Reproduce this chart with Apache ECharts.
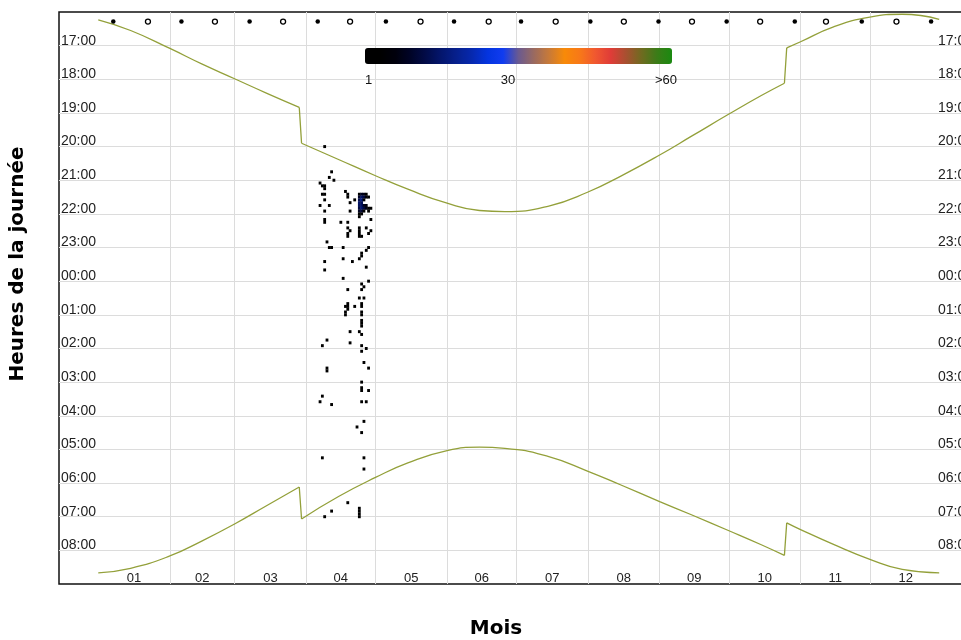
<!DOCTYPE html>
<html>
<head>
<meta charset="utf-8">
<script src="https://cdn.jsdelivr.net/npm/echarts@6/dist/echarts.min.js"></script>
<style>
  html, body { margin: 0; padding: 0; background: #fff; }
  #chart { width: 961px; height: 640px; }
</style>
</head>
<body>
<div id="chart"></div>
<script>
// months (day of year, Jan 1 = 0)
const monthLabels = ['01', '02', '03', '04', '05', '06', '07', '08', '09', '10', '11', '12'];
const monthStarts = [31, 59, 90, 120, 151, 181, 212, 243, 273, 304, 334];
const monthMids = [15.5, 45, 74.5, 105, 135.5, 166, 196.5, 227.5, 258, 288.5, 319, 349.5];

// sunset / sunrise (local time, with the two clock changes)
const sunDays = [0, 14, 31, 45, 59, 73, 87, 88, 104, 120, 134, 151, 165, 176, 195, 212, 226, 243, 257, 273, 287, 297, 298, 304, 318, 334, 348, 364];
const sunsetTimes = ['16:14', '16:33', '17:05', '17:33', '17:59', '18:25', '18:50', '19:54', '20:23', '20:52', '21:16', '21:41', '21:54', '21:56', '21:46', '21:21', '20:53', '20:15', '19:41', '19:02', '18:29', '18:07', '17:04', '16:53', '16:27', '16:09', '16:04', '16:13'];
const sunriseTimes = ['08:40', '08:32', '08:10', '07:43', '07:13', '06:40', '06:07', '07:04', '06:24', '05:50', '05:24', '05:02', '04:56', '04:58', '05:13', '05:39', '06:03', '06:33', '06:57', '07:25', '07:50', '08:09', '07:11', '07:23', '07:49', '08:16', '08:34', '08:40'];

// moon phases along the top
const filledMoonDays = [6.5, 36, 65.5, 95, 124.5, 154, 183, 213, 242.5, 272, 301.5, 330.5, 360.5];
const openMoonDays = [21.5, 50.5, 80, 109, 139.5, 169, 198, 227.5, 257, 286.5, 315, 345.5];
const moonRow = '16:17';

// activity cells: [day, time slot (5 min), count]
const cells = [
  [98, '20:00', 1],
  [101, '20:45', 1], [100, '20:55', 1], [102, '21:00', 1],
  [96, '21:05', 1], [97, '21:10', 2], [98, '21:10', 1], [98, '21:15', 1], [97, '21:25', 1], [98, '21:25', 1], [98, '21:35', 1],
  [96, '21:45', 1], [100, '21:45', 1], [98, '21:55', 1], [98, '22:10', 1], [98, '22:15', 1],
  [99, '22:50', 1], [100, '23:00', 1], [101, '23:00', 2], [98, '23:25', 1], [98, '23:40', 1],
  [107, '21:20', 1], [108, '21:25', 1], [108, '21:30', 1], [109, '21:40', 1], [109, '21:55', 1], [111, '21:35', 1],
  [105, '22:15', 1], [108, '22:15', 1], [108, '22:25', 1], [109, '22:30', 1], [108, '22:35', 1], [108, '22:40', 1],
  [106, '23:00', 1], [106, '23:20', 1], [110, '23:25', 1], [106, '23:55', 1], [108, '00:15', 1],
  [108, '00:40', 1], [107, '00:45', 1], [108, '00:45', 1], [108, '00:50', 1], [107, '00:55', 1], [107, '01:00', 1],
  [111, '00:45', 1], [109, '01:30', 1], [109, '01:50', 1],
  [118, '22:10', 1], [113, '22:25', 1], [113, '22:30', 1], [113, '22:35', 1], [113, '22:40', 1], [114, '22:40', 1],
  [116, '22:25', 1], [117, '22:35', 1], [118, '22:30', 1],
  [117, '23:00', 1], [116, '23:05', 1], [114, '23:10', 1], [114, '23:15', 1], [113, '23:20', 1], [116, '23:35', 1],
  [117, '00:00', 1], [114, '00:05', 1], [115, '00:10', 1], [114, '00:15', 1],
  [113, '00:30', 1], [115, '00:30', 1],
  [114, '00:40', 1], [114, '00:45', 1], [114, '00:55', 1], [114, '01:00', 1], [114, '01:10', 1], [114, '01:15', 1], [114, '01:20', 1],
  [113, '01:30', 1], [114, '01:35', 1], [114, '01:55', 1], [116, '02:00', 1], [114, '02:05', 1], [115, '02:25', 1], [117, '02:35', 1],
  [97, '01:55', 1], [99, '01:45', 1], [99, '02:35', 1], [99, '02:40', 1],
  [114, '03:00', 1], [114, '03:10', 1], [114, '03:15', 1], [117, '03:15', 1],
  [97, '03:25', 1], [96, '03:35', 1], [101, '03:40', 1], [114, '03:35', 1], [116, '03:35', 1],
  [115, '04:10', 1], [112, '04:20', 1], [114, '04:30', 1],
  [97, '05:15', 1], [115, '05:15', 1], [115, '05:35', 1],
  [108, '06:35', 1], [101, '06:50', 1], [98, '07:00', 1],
  [113, '06:45', 1], [113, '06:50', 1], [113, '06:55', 1], [113, '07:00', 1],
  [113, '21:25', 4], [113, '21:30', 10], [113, '21:35', 13], [113, '21:40', 15], [113, '21:45', 14], [113, '21:50', 12], [113, '21:55', 9], [113, '22:00', 4], [113, '22:05', 2],
  [114, '21:25', 9], [114, '21:30', 15], [114, '21:35', 17], [114, '21:40', 14], [114, '21:45', 15], [114, '21:50', 16], [114, '21:55', 11], [114, '22:00', 3],
  [115, '21:25', 8], [115, '21:30', 12], [115, '21:35', 4], [115, '21:45', 9], [115, '21:50', 12], [115, '21:55', 3],
  [116, '21:25', 3], [116, '21:30', 6], [116, '21:45', 7], [116, '21:50', 8],
  [117, '21:30', 2], [117, '21:50', 2], [117, '21:55', 1], [118, '21:50', 1]
];

const rampColors = ['#000000', '#000000', '#00000c', '#000428', '#020c4a', '#04166e', '#06208e', '#0629b0', '#0434e0', '#103cf0',
  '#6a5a90', '#9a6a60', '#c87a38', '#f88a08', '#f87818', '#f05830', '#e03c38', '#a85030', '#706a20', '#3c7c18', '#1a8a10'];
const legendTexts = ['1', '30', '>60'];

// the y axis runs from 16:00 to 09:00 next morning
function toHour(t) {
  const [h, m] = t.split(':').map(Number);
  let v = h + m / 60;
  if (v < 12) v += 24;
  return v;
}
function hourLabel(v) {
  return String(v % 24).padStart(2, '0') + ':00';
}

// smooth parts between clock changes, and the clock-change steps themselves
function splitCurve(times) {
  const smooth = [], steps = [];
  sunDays.forEach((d, i) => {
    const p = [d, toHour(times[i])];
    if (i > 0 && d - sunDays[i - 1] === 1) {
      smooth.push('-');
      if (steps.length) steps.push('-');
      steps.push([sunDays[i - 1], toHour(times[i - 1])], p);
    }
    smooth.push(p);
  });
  return { smooth, steps };
}
const sunset = splitCurve(sunsetTimes);
const sunrise = splitCurve(sunriseTimes);

const chart = echarts.init(document.getElementById('chart'));

const curveColor = '#93a03a';
const yLabel = {
  inside: true,
  showMinLabel: false,
  showMaxLabel: false,
  formatter: hourLabel,
  verticalAlign: 'bottom',
  lineHeight: 10,
  fontFamily: 'Liberation Sans',
  fontSize: 14,
  color: '#222',
  margin: 2
};
const curveLine = (data, smooth) => ({
  type: 'line',
  showSymbol: false,
  smooth: smooth,
  connectNulls: false,
  lineStyle: { color: curveColor, width: 1.3 },
  data: data
});

chart.setOption({
  animation: false,
  grid: {
    left: 59, top: 12, width: 916, height: 572,
    outerBoundsMode: 'none',
    containLabel: false,
    show: true, borderColor: '#111', borderWidth: 1.5
  },
  xAxis: {
    type: 'value',
    min: -17,
    max: 379.5,
    axisLine: { show: false },
    axisTick: {
      show: true, inside: true, length: 572, customValues: monthStarts,
      lineStyle: { color: '#dcdcdc', width: 1 }
    },
    axisLabel: {
      inside: true, customValues: monthMids, margin: 0, lineHeight: 12,
      formatter: v => monthLabels[monthMids.indexOf(v)],
      fontFamily: 'Liberation Sans', fontSize: 13, color: '#222'
    },
    splitLine: { show: false }
  },
  yAxis: [{
    type: 'value', inverse: true, min: 16, max: 33, interval: 1, position: 'left',
    axisLine: { show: false }, axisTick: { show: false },
    splitLine: { show: true, showMinLine: false, showMaxLine: false, lineStyle: { color: '#dcdcdc', width: 1 } },
    axisLabel: yLabel
  }, {
    type: 'value', inverse: true, min: 16, max: 33, interval: 1, position: 'right',
    axisLine: { show: false }, axisTick: { show: false },
    splitLine: { show: false },
    axisLabel: yLabel
  }],
  visualMap: {
    type: 'continuous',
    seriesIndex: 0,
    dimension: 2,
    min: 1, max: 60,
    orient: 'horizontal',
    left: 365, top: 48,
    padding: 0,
    itemWidth: 16, itemHeight: 307,
    calculable: false,
    hoverLink: false,
    text: null,
    inRange: { color: rampColors }
  },
  graphic: [
    { type: 'text', z: 10, x: 365, y: 80, style: { text: legendTexts[0], font: '13px "Liberation Sans"', fill: '#111', textVerticalAlign: 'middle' } },
    { type: 'text', z: 10, x: 508, y: 80, style: { text: legendTexts[1], font: '13px "Liberation Sans"', fill: '#111', textAlign: 'center', textVerticalAlign: 'middle' } },
    { type: 'text', z: 10, x: 677, y: 80, style: { text: legendTexts[2], font: '13px "Liberation Sans"', fill: '#111', textAlign: 'right', textVerticalAlign: 'middle' } },
    { type: 'text', x: 18, y: 264, rotation: Math.PI / 2,
      style: { text: 'Heures de la journée', font: 'bold 20px "DejaVu Sans"', fill: '#000', textAlign: 'center', textVerticalAlign: 'middle' } },
    { type: 'text', x: 496, y: 629,
      style: { text: 'Mois', font: 'bold 20px "DejaVu Sans"', fill: '#000', textAlign: 'center', textVerticalAlign: 'middle' } }
  ],
  series: [{
    type: 'scatter',
    symbol: 'rect',
    symbolSize: [2.8, 3],
    itemStyle: { opacity: 1 },
    z: 4,
    data: cells.map(c => [c[0], toHour(c[1]), c[2]])
  },
  curveLine(sunset.smooth, true),
  curveLine(sunset.steps, false),
  curveLine(sunrise.smooth, true),
  curveLine(sunrise.steps, false),
  {
    type: 'scatter',
    symbol: 'circle',
    symbolSize: 4.5,
    itemStyle: { color: '#000', opacity: 1 },
    z: 5,
    data: filledMoonDays.map(d => [d, toHour(moonRow)])
  }, {
    type: 'scatter',
    symbol: 'circle',
    symbolSize: 5,
    itemStyle: { color: '#fff', borderColor: '#000', borderWidth: 1.3, opacity: 1 },
    z: 5,
    data: openMoonDays.map(d => [d, toHour(moonRow)])
  }]
});
</script>
</body>
</html>
